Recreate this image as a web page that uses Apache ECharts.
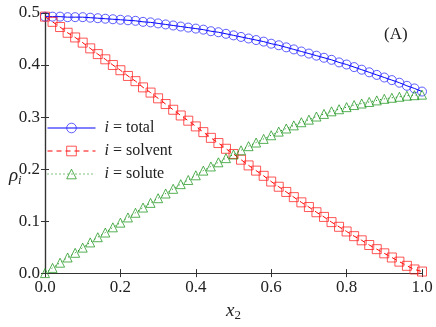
<!DOCTYPE html>
<html><head><meta charset="utf-8">
<script src="https://cdn.jsdelivr.net/npm/echarts@6/dist/echarts.min.js"></script>
<style>html,body{margin:0;padding:0;background:#fff}#c{width:436px;height:327px}</style>
</head><body><div id="c"></div>
<script>
const xValues = [0.00,0.02,0.04,0.06,0.08,0.10,0.12,0.14,0.16,0.18,0.20,0.22,0.24,0.26,0.28,0.30,0.32,0.34,0.36,0.38,0.40,0.42,0.44,0.46,0.48,0.50,0.52,0.54,0.56,0.58,0.60,0.62,0.64,0.66,0.68,0.70,0.72,0.74,0.76,0.78,0.80,0.82,0.84,0.86,0.88,0.90,0.92,0.94,0.96,0.98,1.00];
const total = [0.493,0.493,0.493,0.492,0.492,0.492,0.491,0.490,0.489,0.488,0.487,0.486,0.485,0.483,0.482,0.480,0.478,0.476,0.474,0.472,0.470,0.468,0.465,0.463,0.460,0.457,0.454,0.451,0.448,0.445,0.441,0.438,0.434,0.430,0.426,0.422,0.418,0.414,0.410,0.405,0.401,0.396,0.391,0.386,0.381,0.376,0.371,0.366,0.360,0.355,0.349];
const solvent = [0.493,0.483,0.473,0.462,0.453,0.443,0.432,0.421,0.411,0.400,0.390,0.379,0.369,0.357,0.347,0.336,0.325,0.314,0.303,0.293,0.282,0.271,0.260,0.250,0.239,0.229,0.218,0.207,0.197,0.187,0.176,0.166,0.156,0.146,0.136,0.127,0.117,0.108,0.098,0.089,0.080,0.071,0.063,0.054,0.046,0.038,0.030,0.022,0.014,0.007,0.003];
const solute = [0.000,0.010,0.020,0.030,0.039,0.049,0.059,0.069,0.078,0.088,0.097,0.107,0.116,0.126,0.135,0.144,0.153,0.162,0.171,0.179,0.188,0.197,0.205,0.213,0.221,0.228,0.236,0.244,0.251,0.258,0.265,0.272,0.278,0.284,0.290,0.295,0.301,0.306,0.311,0.315,0.319,0.323,0.326,0.329,0.332,0.335,0.337,0.339,0.341,0.342,0.343];
const seriesNames = ['total','solvent','solute'];
const xTickLabels = ['0.0','0.2','0.4','0.6','0.8','1.0'];
const yTickLabels = ['0.0','0.1','0.2','0.3','0.4','0.5'];

const FONT = 'Liberation Serif';
const pairs = arr => xValues.map((x, i) => [x, arr[i]]);
const tickStyle = {show:true, inside:true, length:4, lineStyle:{color:'#333', width:1}};
const lineAx = {show:true, lineStyle:{color:'#333', width:1.2}};
const lineColors = ['#0000ff','#ff0000','#008000'];
const edgeColors = ['rgba(40,40,255,0.75)','rgba(255,30,30,0.75)','rgba(30,150,30,0.75)'];
const dashes = ['solid',[5,4],[1,3]];
const symbols = ['circle','rect','triangle'];

const chart = echarts.init(document.getElementById('c'), null, {renderer:'canvas'});
chart.setOption({
  backgroundColor:'#fff',
  animation:false,
  grid:{left:45, right:14, top:13, bottom:40, containLabel:false},
  xAxis:[{
    type:'value', min:0, max:1, interval:0.2,
    axisLine:lineAx, axisTick:tickStyle, splitLine:{show:false},
    axisLabel:{fontFamily:FONT, fontSize:17, color:'#222', margin:6,
      formatter:(v)=>xTickLabels[Math.round(v/0.2)]},
    name:'{it|x}{sub|2}', nameLocation:'middle', nameGap:20,
    nameTextStyle:{rich:{it:{fontFamily:FONT, fontStyle:'italic', fontSize:19, color:'#222'},
      sub:{fontFamily:FONT, fontSize:13, color:'#222', padding:[10,0,0,0]}}}
  },{
    type:'value', min:0, max:1, interval:0.2, position:'top',
    axisLine:lineAx, axisTick:tickStyle, axisLabel:{show:false}, splitLine:{show:false}
  }],
  yAxis:[{
    type:'value', min:0, max:0.5, interval:0.1,
    axisLine:lineAx, axisTick:tickStyle, splitLine:{show:false},
    axisLabel:{fontFamily:FONT, fontSize:17, color:'#222', margin:5,
      formatter:(v)=>yTickLabels[Math.round(v/0.1)]}
  },{
    type:'value', min:0, max:0.5, interval:0.1, position:'right',
    axisLine:lineAx, axisTick:tickStyle, axisLabel:{show:false}, splitLine:{show:false}
  }],
  legend:{
    left:42, top:115, orient:'vertical', itemWidth:48, itemHeight:12, itemGap:7,
    formatter:(n)=>'{it|i} = '+n,
    textStyle:{fontFamily:FONT, fontSize:16, color:'#222', padding:[0,0,0,4],
      rich:{it:{fontFamily:FONT, fontStyle:'italic', fontSize:16, color:'#222'}}},
    data:seriesNames.map((n,i)=>({name:n,
      itemStyle:{color:'rgba(0,0,0,0)', borderColor:edgeColors[i], borderWidth:1},
      lineStyle:{color:lineColors[i], width:1, type:dashes[i]}}))
  },
  graphic:[
    {type:'text', left:384, top:26, style:{text:'(A)', font:'17px "Liberation Serif"', fill:'#222'}},
    {type:'text', left:9, top:166, style:{rich:{it:{font:'italic 19px "Liberation Serif"', fill:'#222'},
      sub:{font:'italic 13px "Liberation Serif"', fill:'#222', padding:[10,0,0,0]}}, text:'{it|ρ}{sub|i}'}}
  ],
  series:seriesNames.map((n,i)=>({
    name:n, type:'line', data:pairs([total,solvent,solute][i]), symbol:symbols[i], symbolSize:9,
    lineStyle:{color:lineColors[i], width:1, type:dashes[i]},
    itemStyle:{color:'rgba(0,0,0,0)', borderColor:edgeColors[i], borderWidth:1}
  }))
});
</script></body></html>
